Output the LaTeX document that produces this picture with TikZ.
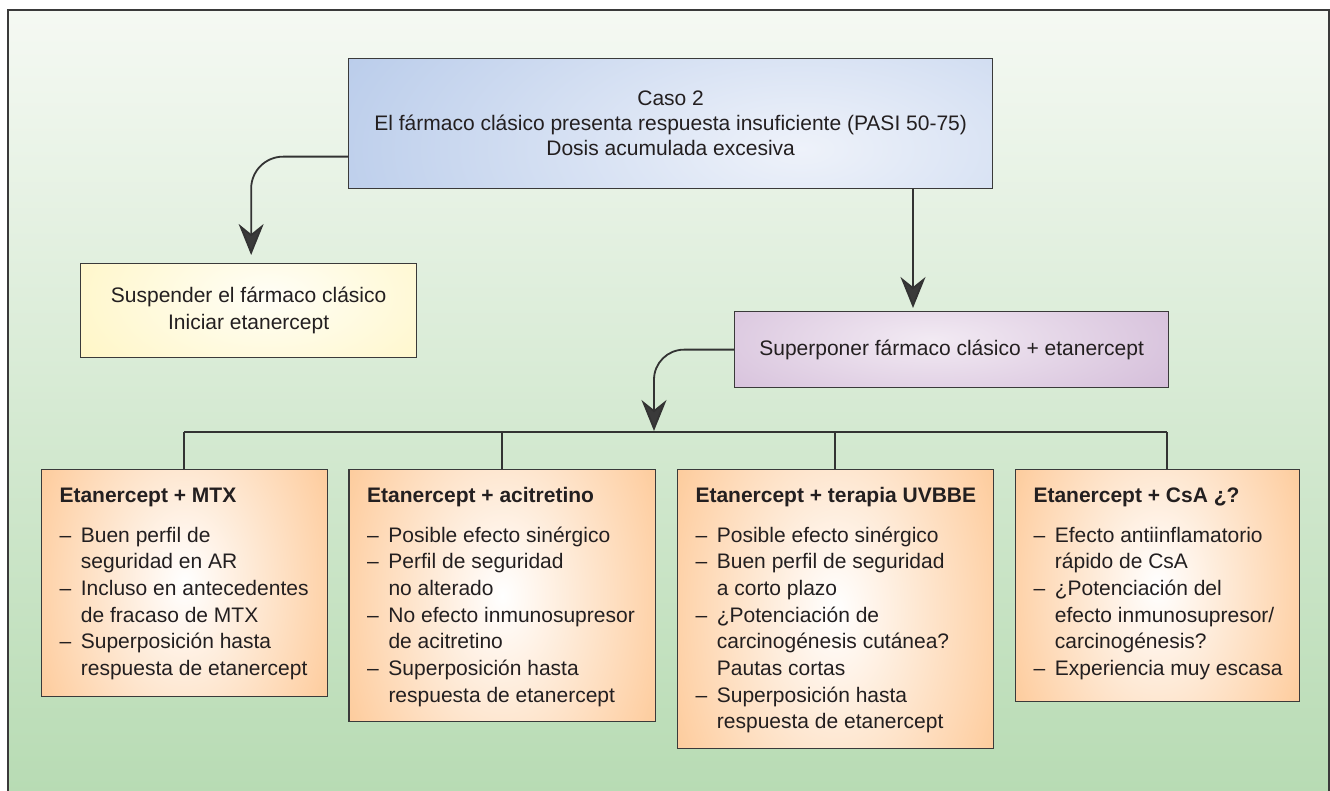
\documentclass[tikz,border=0pt]{standalone}
\usepackage{fontspec}
\setmainfont{Liberation Sans}
\usetikzlibrary{arrows.meta,calc}
\definecolor{bgtop}{HTML}{F5F9F3}
\definecolor{bgbot}{HTML}{B7DBB3}
\definecolor{framec}{HTML}{3A3A3A}
\definecolor{linec}{HTML}{333333}
\definecolor{txtc}{HTML}{231F20}
\definecolor{orangeC}{HTML}{FDC086}
\definecolor{blueout}{HTML}{B8CBEA}
\definecolor{bluein}{HTML}{EEF2FA}
\definecolor{purpout}{HTML}{C09FC8}
\definecolor{purpin}{HTML}{F2EAF3}
\definecolor{yelout}{HTML}{FFF1A8}
\definecolor{yelin}{HTML}{FFFEF6}
\newcommand{\dashitem}{\makebox[21.4pt][l]{–}}
\newcommand{\contind}{\hspace*{21.4pt}}
\newcommand{\firststrut}{\rule{0pt}{17pt}}
\tikzset{
  box/.style={draw=framec, line width=1.3pt, inner sep=0pt},
  shbox/.style n args={6}{box, fill=#2,
    path picture={\shade[inner color=#1, outer color=#2]
      ([xshift=#3,yshift=#4]path picture bounding box.center)
      ellipse [x radius=#5, y radius=#6];}},
  conn/.style={draw=linec, line width=1.8pt},
  arr/.style={conn, -{Stealth[length=31pt, width=25pt, inset=10pt, fill=framec]}},
  itemtxt/.style={anchor=north west, align=left, inner sep=0pt, text=txtc},
}
\begin{document}
\begin{tikzpicture}[x=1pt, y=-1pt, font=\fontsize{21}{26.67}\selectfont, text=txtc]
\useasboundingbox (0,0) rectangle (1330,791);
\fill[white] (0,0) rectangle (1330,791);
\shade[top color=bgtop, bottom color=bgbot] (8,10) rectangle (1329,800);
\draw[framec, line width=2pt] (8,800) -- (8,10) -- (1329,10) -- (1329,800);

% top box
\node[shbox={bluein}{blueout}{130pt}{-25pt}{520pt}{240pt}, anchor=north west,
      minimum width=644pt, minimum height=130pt, align=center,
      font=\fontsize{21}{25}\selectfont] (top) at (348,58)
  {Caso 2\\El fármaco clásico presenta respuesta insuficiente (PASI 50-75)\\Dosis acumulada excesiva};

% yellow box
\node[shbox={yelin}{yelout}{20pt}{15pt}{360pt}{190pt}, anchor=north west,
      minimum width=336pt, minimum height=94pt, align=center,
      font=\fontsize{21}{26.5}\selectfont] (yel) at (80,263)
  {Suspender el fármaco clásico\\Iniciar etanercept};

% purple box
\node[shbox={purpin}{purpout}{-20pt}{10pt}{480pt}{150pt}, anchor=north west,
      minimum width=434pt, minimum height=76pt] (purp) at (734,311)
  {Superponer fármaco clásico + etanercept};

% orange boxes
\node[shbox={white}{orangeC}{0pt}{0pt}{200pt}{300pt}, anchor=north west,
      minimum width=286pt, minimum height=227pt] (b1) at (40.7,469) {};
\node[shbox={white}{orangeC}{0pt}{0pt}{215pt}{330pt}, anchor=north west,
      minimum width=306.7pt, minimum height=252pt] (b2) at (348.3,469) {};
\node[shbox={white}{orangeC}{0pt}{0pt}{222pt}{360pt}, anchor=north west,
      minimum width=316pt, minimum height=279pt] (b3) at (676.7,469) {};
\node[shbox={white}{orangeC}{0pt}{0pt}{200pt}{305pt}, anchor=north west,
      minimum width=284.3pt, minimum height=232pt] (b4) at (1014.7,469) {};

\node[itemtxt] (b1t) at (59.3,485) {\firststrut\textbf{Etanercept + MTX}\\[13.33pt]
\dashitem Buen perfil de\\
\contind seguridad en AR\\
\dashitem Incluso en antecedentes\\
\contind de fracaso de MTX\\
\dashitem Superposición hasta\\
\contind respuesta de etanercept};

\node[itemtxt] (b2t) at (366.9,485) {\firststrut\textbf{Etanercept + acitretino}\\[13.33pt]
\dashitem Posible efecto sinérgico\\
\dashitem Perfil de seguridad\\
\contind no alterado\\
\dashitem No efecto inmunosupresor\\
\contind de acitretino\\
\dashitem Superposición hasta\\
\contind respuesta de etanercept};

\node[itemtxt] (b3t) at (695.3,485) {\firststrut\textbf{Etanercept + terapia UVBBE}\\[13.33pt]
\dashitem Posible efecto sinérgico\\
\dashitem Buen perfil de seguridad\\
\contind a corto plazo\\
\dashitem ¿Potenciación de\\
\contind carcinogénesis cutánea?\\
\contind Pautas cortas\\
\dashitem Superposición hasta\\
\contind respuesta de etanercept};

\node[itemtxt] (b4t) at (1033.3,485) {\firststrut\textbf{Etanercept + CsA ¿?}\\[13.33pt]
\dashitem Efecto antiinflamatorio\\
\contind rápido de CsA\\
\dashitem ¿Potenciación del\\
\contind efecto inmunosupresor/\\
\contind carcinogénesis?\\
\dashitem Experiencia muy escasa};

% connectors
\coordinate (busL) at (184,432);
\coordinate (busR) at (1167,432);
\coordinate (busM) at (654,431);
\coordinate (downx) at (913,0);

\draw[arr, rounded corners=32pt] ([yshift=-33pt]top.west) -| ([xshift=2.5pt,yshift=8pt]yel.north);
\draw[arr] (top.south -| downx) -- ([yshift=3pt]purp.north -| downx);
\draw[arr, rounded corners=30pt] (purp.west) -| (busM);

\draw[conn] (busL) -- (busR);
\draw[conn] (b1.north -| busL) -- (busL);
\draw[conn] (b2.north) -- (b2.north |- busL);
\draw[conn] (b3.north) -- (b3.north |- busL);
\draw[conn] (b4.north -| busR) -- (busR);
\end{tikzpicture}
\end{document}
